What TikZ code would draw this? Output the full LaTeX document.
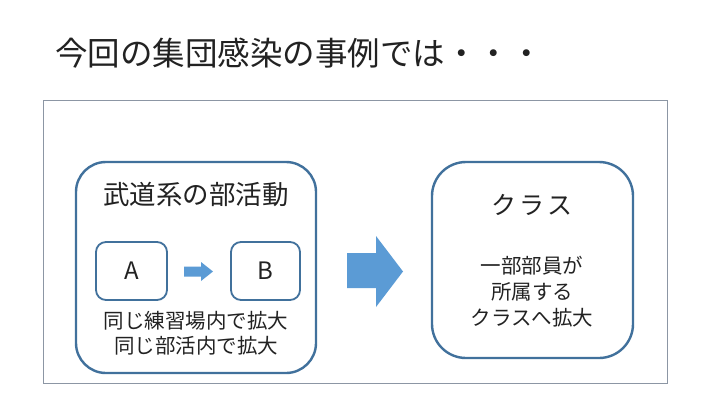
\documentclass[tikz,border=0pt]{standalone}
\usepackage{fontspec}
\setmainfont{Noto Sans CJK JP}
\usetikzlibrary{shapes.arrows}
\definecolor{boxline}{HTML}{41719C}
\definecolor{arrfill}{HTML}{5B9BD5}
\definecolor{frame}{HTML}{8C96A4}
\definecolor{txt}{HTML}{222222}
\begin{document}
\begin{tikzpicture}[x=1pt,y=-1pt,
  rbox/.style={draw=boxline,line width=2.4pt},
  lbl/.style={text=txt,inner sep=0pt,align=center},
  arr/.style={fill=arrfill,draw=none}]
\useasboundingbox (0,0) rectangle (720,405);
\fill[white] (0,0) rectangle (720,405);
\node[lbl,anchor=west,font=\fontsize{32.5}{35}\selectfont] (title) at (55,53) {今回の集団感染の事例では・・・};
\draw[frame,line width=0.9pt] (43,100) rectangle (667,383);
% left box
\draw[rbox,rounded corners=30pt] (76,162) rectangle (316,373);
\node[lbl,font=\fontsize{26.5}{29}\selectfont] (club) at (196,194) {武道系の部活動};
\draw[rbox,line width=1.8pt,rounded corners=10pt] (96,242) rectangle (167,300);
\node[lbl,font=\fontsize{24}{26}\selectfont] (A) at (131.5,271) {A};
\draw[rbox,line width=1.8pt,rounded corners=10pt] (231,242) rectangle (300,300);
\node[lbl,font=\fontsize{24}{26}\selectfont] (B) at (265.5,271) {B};
\fill[arr] (184,266.5) -- (201,266.5) -- (201,262) -- (213,271.5) -- (201,281) -- (201,276.5) -- (184,276.5) -- cycle;
\node[lbl,font=\fontsize{20.5}{24.5}\selectfont] (spread1) at (196,333) {同じ練習場内で拡大\\同じ部活内で拡大};
% big arrow
\fill[arr] (347,253) -- (376,253) -- (376,236) -- (403,271.5) -- (376,307) -- (376,288) -- (347,288) -- cycle;
% right box
\draw[rbox,rounded corners=34pt] (432,162) rectangle (633,358);
\node[lbl,font=\fontsize{25}{28}\selectfont] (cls) at (532,205) {ク\hspace{3pt}ラ\hspace{3pt}ス};
\node[lbl,font=\fontsize{20.5}{26}\selectfont] (spread2) at (532,292) {一部部員が\\所属する\\クラスへ拡大};
\end{tikzpicture}
\end{document}
